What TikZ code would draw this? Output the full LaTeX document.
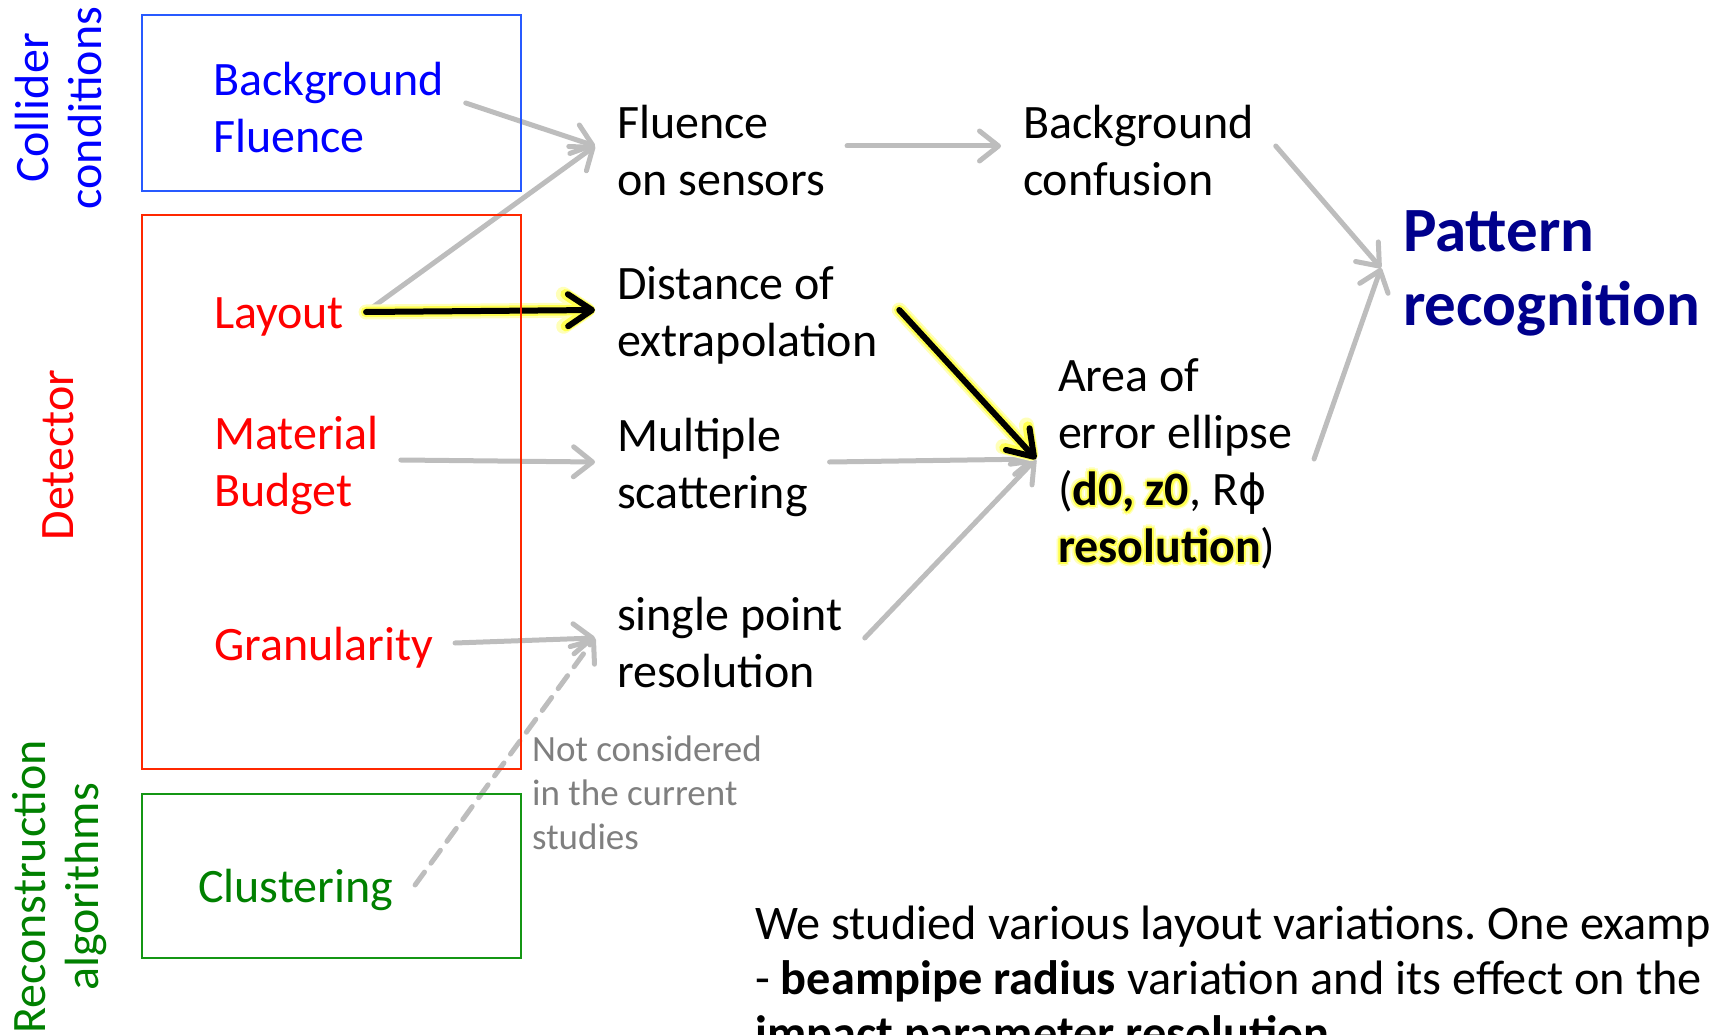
\documentclass[tikz,border=0pt]{standalone}
\usepackage{fontspec}
\setmainfont{Carlito}
\newfontfamily\phifont{DejaVu Sans}
\usetikzlibrary{arrows.meta}
\frenchspacing

\definecolor{linkgray}{RGB}{189,189,189}
\definecolor{notegray}{RGB}{127,127,127}
\definecolor{collblue}{RGB}{0,0,255}
\definecolor{collframe}{RGB}{40,90,255}
\definecolor{detred}{RGB}{255,0,0}
\definecolor{detframe}{RGB}{255,40,0}
\definecolor{recogreen}{RGB}{0,128,0}
\definecolor{recoframe}{RGB}{20,150,20}
\definecolor{patnavy}{RGB}{0,0,140}
\definecolor{glowinner}{RGB}{255,255,80}
\definecolor{glowouter}{RGB}{255,255,185}

\newcommand{\glowtxt}[1]{%
  \leavevmode
  \foreach \gx/\gy in {4/0,2.8/2.8,0/4,-2.8/2.8,-4/0,-2.8/-2.8,0/-4,2.8/-2.8}{%
    \rlap{\kern\gx pt\raisebox{\gy pt}{\textcolor{glowouter}{#1}}}}%
  \foreach \gx/\gy in {2/0,1.4/1.4,0/2,-1.4/1.4,-2/0,-1.4/-1.4,0/-2,1.4/-1.4}{%
    \rlap{\kern\gx pt\raisebox{\gy pt}{\textcolor{glowinner}{#1}}}}%
  #1}

\tikzset{
  plain/.style={anchor=west, align=left, inner sep=0pt, font=\fontsize{48}{57}\selectfont},
  txt/.style={plain, outer xsep=22pt},
  side/.style={rotate=90, align=center, inner sep=0pt, font=\fontsize{48}{53}\selectfont},
  frame/.style={line width=1.6pt},
  link/.style={draw=linkgray, line width=5pt, line cap=round,
    -{Straight Barb[length=19pt,width=30pt,round]}, transform canvas={yshift=5pt}},
  dashlink/.style={link, dash pattern=on 16pt off 11pt},
  keyglow/.style={link, draw=glowouter, line width=15pt,
    -{Straight Barb[length=24pt,width=32pt,round]}},
  keyglowin/.style={keyglow, draw=glowinner, line width=10.5pt},
  keylink/.style={keyglow, draw=black, line width=6pt}
}

\begin{document}
\begin{tikzpicture}[x=1pt, y=-1pt]
  \useasboundingbox (0,0) rectangle (1713,1035);
  \clip (0,0) rectangle (1713,1035);

  \node[side, collblue] (collab) at (59,108) {Collider\\conditions};
  \node[side, detred] (detlab) at (58,455) {Detector};
  \node[side, recogreen] (recolab) at (60,887) {Reconstruction\\algorithms};

  \node[txt, collblue] (bgflu) at (191,108) {Background\\Fluence};
  \node[txt, detred] (layout) at (192,317) {Layout};
  \node[txt, detred] (matbud) at (192,465) {Material\\Budget};
  \node[txt, detred] (gran) at (192,648) {Granularity};
  \node[txt, recogreen] (clus) at (176,890) {Clustering};

  \node[txt] (flusens) at (595,151) {Fluence\\on sensors};
  \node[txt] (distex) at (595,315) {Distance of\\extrapolation};
  \node[txt] (mscat) at (595,467) {Multiple\\scattering};
  \node[txt] (spres) at (595,643) {single point\\resolution};
  \node[txt] (bgconf) at (1001,151) {Background\\confusion};
  \node[txt] (area) at (1036,464) {Area of\\error ellipse\\(\glowtxt{\textbf{d0, z0}}, R{\phifont\fontsize{43}{57}\selectfont ϕ}\\\glowtxt{\textbf{resolution}})};
  \node[txt, patnavy, font=\fontsize{63}{74}\selectfont\bfseries] (patrec) at (1381,273) {Pattern\\recognition};

  \node[plain, notegray, font=\fontsize{37}{44}\selectfont] (note) at (532,793) {Not considered\\in the current\\studies};
  \node[plain, anchor=base west, font=\fontsize{48.3}{55}\selectfont] (summary) at (755,1049) {We studied various layout variations. One example\\- \textbf{beampipe radius} variation and its effect on the\\\textbf{impact parameter resolution}};

  \draw[link] (bgflu.east) -- (flusens.west);
  \draw[link] (layout.east) -- (flusens.west);
  \draw[link] (flusens.east) -- (bgconf.west);
  \draw[link] (matbud.east) -- (mscat.west);
  \draw[link] (gran.east) -- (spres.west);
  \draw[dashlink] (clus.east) -- (spres.west);
  \draw[link] (mscat.east) -- (area.west);
  \draw[link] (spres.east) -- (area.west);
  \draw[link] (bgconf.east) -- (patrec.west);
  \draw[link] (area.east) -- (patrec.west);
  \foreach \s in {keyglow,keyglowin,keylink}{
    \draw[\s] (layout.east) -- (distex.west);
    \draw[\s] (distex.east) -- (area.west);
  }

  \draw[frame, collframe] (142,15) rectangle (521,191);
  \draw[frame, detframe] (142,215) rectangle (521,769);
  \draw[frame, recoframe] (142,794) rectangle (521,958);
\end{tikzpicture}
\end{document}
